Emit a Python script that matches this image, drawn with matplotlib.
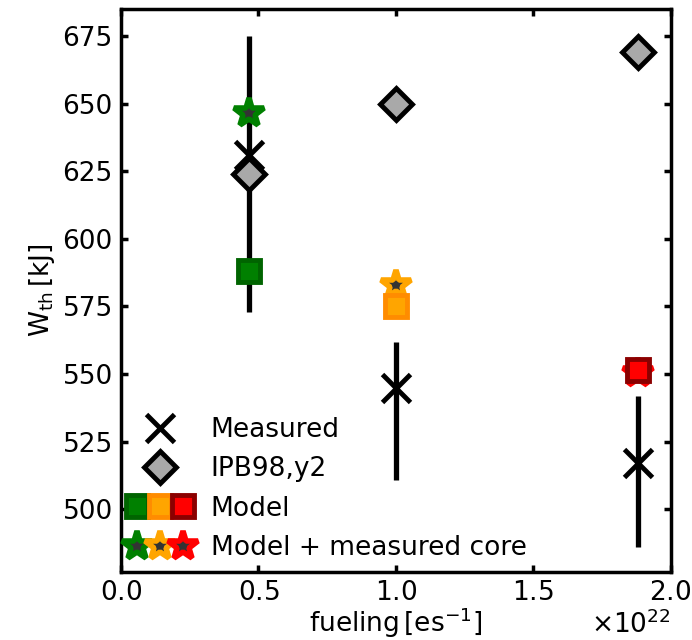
import matplotlib
matplotlib.use("Agg")
import matplotlib.pyplot as plt
from matplotlib.legend_handler import HandlerTuple
from matplotlib.ticker import ScalarFormatter

# Fueling rate (e/s) for the three discharges
fueling = [0.465e22, 1.0e22, 1.88e22]

# Measured stored thermal energy with asymmetric uncertainties [kJ]
w_measured = [631.0, 545.0, 517.0]
err_low = [58.0, 34.0, 31.0]
err_high = [44.0, 17.0, 25.0]

# IPB98(y,2) scaling prediction [kJ]
w_ipb = [624.0, 650.0, 669.0]

# Model predictions [kJ]
w_model = [588.0, 575.0, 551.5]
w_model_core = [646.5, 583.0, 550.5]

face_colors = ["green", "orange", "red"]
edge_colors = ["darkgreen", "darkorange", "darkred"]

FS = 19

fig = plt.figure(figsize=(6.92, 6.40), dpi=100)
ax = fig.add_axes([0.175, 0.107, 0.794, 0.879])

ax.errorbar(fueling, w_measured, yerr=[err_low, err_high], fmt="x",
            color="black", ecolor="black", elinewidth=3.8, capsize=0,
            markersize=20, markeredgewidth=3.5, zorder=2)
ax.plot(fueling, w_ipb, "D", markerfacecolor="darkgray",
        markeredgecolor="black", markersize=16, markeredgewidth=3.5,
        linestyle="none", zorder=3)

star_handles = []
square_handles = []
for i in range(len(fueling)):
    st, = ax.plot(fueling[i], w_model_core[i], "*", markersize=22,
                  markerfacecolor="#333333", markeredgecolor=face_colors[i],
                  markeredgewidth=4, linestyle="none", zorder=4)
    sq, = ax.plot(fueling[i], w_model[i], "s", markersize=16,
                  markerfacecolor=face_colors[i],
                  markeredgecolor=edge_colors[i], markeredgewidth=3.5,
                  linestyle="none", zorder=5)
    star_handles.append(st)
    square_handles.append(sq)

h_meas, = ax.plot([], [], "x", color="black", markersize=20,
                  markeredgewidth=3.5, linestyle="none")
h_ipb, = ax.plot([], [], "D", markerfacecolor="darkgray",
                 markeredgecolor="black", markersize=16, markeredgewidth=3.5,
                 linestyle="none")

ax.set_xlim(0, 2.0e22)
ax.set_ylim(477, 685)
ax.set_xticks([0, 0.5e22, 1.0e22, 1.5e22, 2.0e22])
ax.set_yticks([500, 525, 550, 575, 600, 625, 650, 675])

fmt = ScalarFormatter(useMathText=True)
ax.xaxis.set_major_formatter(fmt)

ax.tick_params(direction="in", length=5, width=2.5, labelsize=FS,
               top=True, right=True, pad=6)
for sp in ax.spines.values():
    sp.set_linewidth(2.5)
ax.xaxis.get_offset_text().set_fontsize(FS)

ax.set_xlabel(r"$\mathrm{fueling}\,[\mathrm{es}^{-1}]$", fontsize=FS,
              labelpad=0)
ax.set_ylabel(r"$\mathrm{W}_{\mathrm{th}}\,[\mathrm{kJ}]$", fontsize=FS)

ax.legend([h_meas, h_ipb, tuple(square_handles), tuple(star_handles)],
          ["Measured", "IPB98,y2", "Model", "Model + measured core"],
          handler_map={tuple: HandlerTuple(ndivide=None, pad=0)},
          loc="lower left", bbox_to_anchor=(0.0, 0.012),
          frameon=False, fontsize=FS,
          handlelength=2.65, handletextpad=0.6, borderpad=0.15,
          borderaxespad=0.0, labelspacing=0.5)

fig.savefig("out.png", dpi=100)
